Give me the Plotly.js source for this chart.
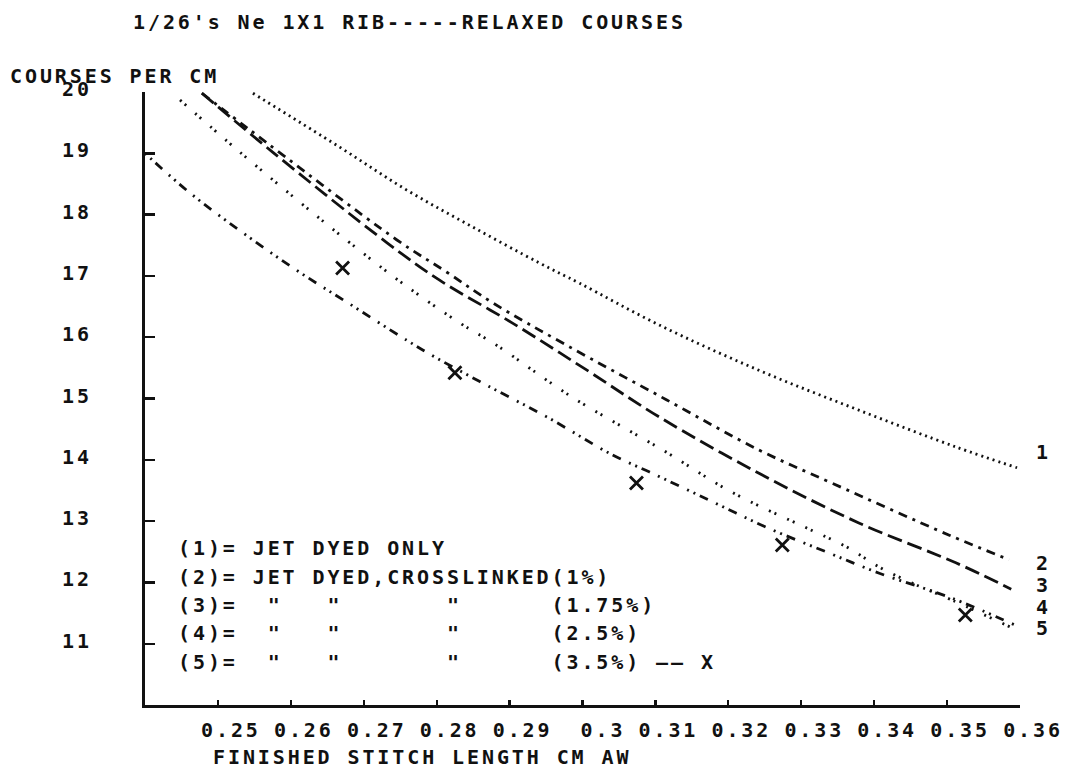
<!DOCTYPE html>
<html>
<head>
<meta charset="utf-8">
<script src="https://cdn.plot.ly/plotly-3.0.1.min.js"></script>
<style>
  html, body { margin: 0; padding: 0; background: #ffffff; }
  #chart { width: 1066px; height: 768px; }
  /* wide plotter-style character pitch */
  #chart text { letter-spacing: 2.9px; }
</style>
</head>
<body>
<div id="chart"></div>
<script>
// Finished stitch length (cm) vs relaxed courses per cm, 1/26's Ne 1x1 rib

// (1) jet dyed only
const len1 = [0.2548, 0.2667, 0.2759, 0.2849, 0.2941, 0.2996, 0.3105, 0.3242, 0.3379, 0.3512, 0.3596];
const cpc1 = [19.98, 19.10, 18.40, 17.80, 17.21, 16.88, 16.20, 15.46, 14.81, 14.21, 13.87];

// (2) jet dyed, crosslinked 1%
const len2 = [0.2478, 0.2544, 0.2745, 0.2814, 0.2877, 0.2978, 0.3115, 0.3242, 0.3342, 0.3503, 0.3585];
const cpc2 = [19.98, 19.38, 17.59, 17.06, 16.56, 15.87, 14.98, 14.16, 13.62, 12.77, 12.37];

// (3) crosslinked 1.75%
const len3 = [0.2478, 0.2575, 0.2732, 0.2804, 0.2904, 0.3005, 0.3105, 0.3242, 0.3379, 0.3512, 0.3588];
const cpc3 = [19.98, 19.02, 17.54, 16.93, 16.23, 15.47, 14.70, 13.78, 12.97, 12.32, 11.89];

// (4) crosslinked 2.5%
const len4 = [0.2448, 0.2530, 0.2630, 0.2681, 0.2753, 0.2832, 0.2882, 0.2986, 0.3110, 0.3205, 0.3307, 0.3362, 0.3407, 0.3452, 0.3507, 0.3596];
const cpc4 = [19.87, 19.02, 18.03, 17.54, 16.88, 16.23, 15.87, 15.02, 14.16, 13.47, 12.89, 12.58, 12.25, 11.99, 11.71, 11.22];

// (5) crosslinked 3.5% - fitted curve
const len5 = [0.2400, 0.2462, 0.2544, 0.2612, 0.2677, 0.2759, 0.2800, 0.2868, 0.2951, 0.3041, 0.3092, 0.3174, 0.3252, 0.3338, 0.3407, 0.3505, 0.3596];
const cpc5 = [19.00, 18.35, 17.62, 17.06, 16.57, 15.95, 15.66, 15.22, 14.70, 14.08, 13.80, 13.34, 12.90, 12.48, 12.15, 11.75, 11.29];

// (5) measured points
const len5pts = [0.2671, 0.2825, 0.3074, 0.3274, 0.3525];
const cpc5pts = [17.13, 15.42, 13.62, 12.61, 11.47];

const stitchTicks = [0.25, 0.26, 0.27, 0.28, 0.29, 0.30, 0.31, 0.32, 0.33, 0.34, 0.35, 0.36];
const stitchTickText = ['0.25', '0.26', '0.27', '0.28', '0.29', '\u00A00.3', '0.31', '0.32', '0.33', '0.34', '0.35', '0.36'];
const courseTicks = [11, 12, 13, 14, 15, 16, 17, 18, 19, 20];

const curveTags = ['1', '2', '3', '4', '5'];
const keyRows = [
  '(1)= JET DYED ONLY',
  '(2)= JET DYED,CROSSLINKED(1%)',
  '(3)=  "   "       "      (1.75%)',
  '(4)=  "   "       "      (2.5%)',
  '(5)=  "   "       "      (3.5%) \u2013\u2013 X'
];

const INK = '#111111';
const FONT = 'DejaVu Sans Mono, Liberation Mono, monospace';

function curve(x, y, dash, name) {
  return {
    x: x, y: y, name: name, type: 'scatter', mode: 'lines',
    line: { color: INK, width: 2.8, dash: dash, shape: 'spline', smoothing: 1 },
    hoverinfo: 'skip'
  };
}

const traces = [
  curve(len1, cpc1, '2px,4px', '(1)'),
  curve(len2, cpc2, '9px,6px,3px,6px', '(2)'),
  curve(len3, cpc3, '15px,6px', '(3)'),
  curve(len4, cpc4, '2px,4px,2px,12px', '(4)'),
  curve(len5, cpc5, '2px,5px,2px,5px,9px,9px', '(5)'),
  {
    x: len5pts, y: cpc5pts, name: '(5) points', type: 'scatter', mode: 'markers',
    marker: { symbol: 'x-thin', size: 13, color: INK, line: { color: INK, width: 2.8 } },
    hoverinfo: 'skip'
  }
];

const nb = s => s.replace(/ /g, '\u00A0');
const txtFont = { family: FONT, size: 20, color: INK, weight: 'bold' };

function leftNote(text, x, y) {
  return {
    text: nb(text), xref: 'paper', yref: 'paper', x: x, y: y,
    xanchor: 'left', yanchor: 'middle', align: 'left',
    showarrow: false, font: txtFont
  };
}

const annotations = [];
// y axis caption
annotations.push(leftNote('COURSES PER CM', -0.1565, 1.0260));
// x axis caption
annotations.push(leftNote('FINISHED STITCH LENGTH CM AW', 0.0754, -0.0848));
// key rows
const keyY = [0.2561, 0.2088, 0.1631, 0.1175, 0.0701];
keyRows.forEach((row, i) => annotations.push(leftNote(row, 0.0354, keyY[i])));
// curve numbers at the right end
const tagY = [14.13, 12.32, 11.96, 11.60, 11.26];
curveTags.forEach((t, i) => {
  annotations.push({
    text: t, xref: 'x', yref: 'y', x: 0.36, y: tagY[i],
    xanchor: 'left', yanchor: 'middle', align: 'left', xshift: 14,
    showarrow: false, font: txtFont
  });
});

const layout = {
  width: 1066, height: 768,
  paper_bgcolor: '#ffffff', plot_bgcolor: '#ffffff',
  margin: { l: 145, r: 46, t: 92, b: 63 },
  showlegend: false,
  title: {
    text: nb("1/26's Ne 1X1 RIB-----RELAXED COURSES"),
    xref: 'container', yref: 'container',
    x: 133 / 1066, xanchor: 'left', y: 1 - 22 / 768, yanchor: 'middle',
    font: txtFont
  },
  xaxis: {
    range: [0.24, 0.36], tickmode: 'array', tickvals: stitchTicks, ticktext: stitchTickText,
    ticks: 'inside', ticklen: 5, tickwidth: 2.2, tickcolor: INK,
    showline: true, linewidth: 3, linecolor: INK, mirror: false,
    showgrid: false, zeroline: false, ticklabelshift: 13, ticklabelstandoff: 5,
    tickfont: txtFont, fixedrange: true
  },
  yaxis: {
    range: [10, 20], tickmode: 'array', tickvals: courseTicks,
    ticks: 'inside', ticklen: 10, tickwidth: 2.4, tickcolor: INK,
    showline: true, linewidth: 3, linecolor: INK,
    showgrid: false, zeroline: false, ticklabelstandoff: 46, ticklabelshift: -3,
    tickfont: txtFont, fixedrange: true
  },
  annotations: annotations
};

Plotly.newPlot('chart', traces, layout, { displayModeBar: false, staticPlot: true });
</script>
</body>
</html>
